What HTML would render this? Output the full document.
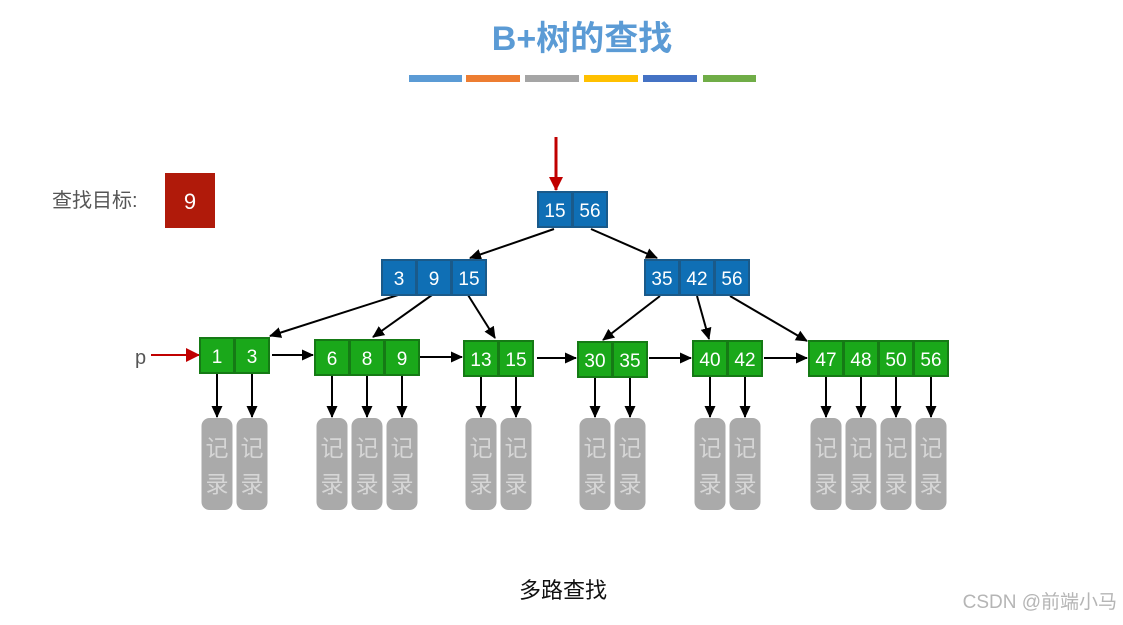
<!DOCTYPE html>
<html><head><meta charset="utf-8"><style>
body{margin:0;background:#fff}
svg text{font-family:"Liberation Sans","Noto Sans CJK SC",sans-serif}
</style></head><body>
<svg width="1123" height="620" xmlns="http://www.w3.org/2000/svg">
<defs>
<marker id="a" markerWidth="12" markerHeight="12" refX="11" refY="6" orient="auto" markerUnits="userSpaceOnUse"><path d="M0,0.5L12,6L0,11.5z" fill="#000"/></marker>
<marker id="r" markerWidth="14" markerHeight="14" refX="13" refY="7" orient="auto" markerUnits="userSpaceOnUse"><path d="M0,0L14,7L0,14z" fill="#c00000"/></marker>
</defs>
<text x="582" y="50" text-anchor="middle" font-size="34" font-weight="bold" fill="#5b9bd5">B+树的查找</text>
<rect x="409" y="75" width="53" height="7" fill="#5b9bd5"/>
<rect x="466" y="75" width="54" height="7" fill="#ed7d31"/>
<rect x="525" y="75" width="54" height="7" fill="#a5a5a5"/>
<rect x="584" y="75" width="54" height="7" fill="#ffc000"/>
<rect x="643" y="75" width="54" height="7" fill="#4472c4"/>
<rect x="703" y="75" width="53" height="7" fill="#70ad47"/>
<text x="52" y="207" font-size="20" fill="#555">查找目标:</text>
<rect x="165" y="173" width="50" height="55" fill="#b01a0a"/>
<text x="190" y="209" text-anchor="middle" font-size="22" fill="#fff">9</text>
<line x1="556" y1="137" x2="556" y2="190" stroke="#c00000" stroke-width="3" marker-end="url(#r)"/>
<text x="135" y="364" font-size="20" fill="#555">p</text>
<line x1="151" y1="355" x2="199" y2="355" stroke="#c00000" stroke-width="2" marker-end="url(#r)"/>
<g stroke="#000" stroke-width="2" fill="none" marker-end="url(#a)">
<line x1="554" y1="229" x2="470" y2="258"/>
<line x1="591" y1="229" x2="657" y2="258"/>
<line x1="398" y1="295" x2="270" y2="336"/>
<line x1="432" y1="295" x2="373" y2="337"/>
<line x1="468" y1="295" x2="495" y2="338"/>
<line x1="660" y1="296" x2="603" y2="340"/>
<line x1="697" y1="296" x2="709" y2="339"/>
<line x1="730" y1="296" x2="807" y2="341"/>
<line x1="272" y1="355" x2="313" y2="355"/>
<line x1="420" y1="357" x2="462" y2="357"/>
<line x1="537" y1="358" x2="576" y2="358"/>
<line x1="649" y1="358" x2="691" y2="358"/>
<line x1="764" y1="358" x2="807" y2="358"/>
</g>
<g id="nodes" font-size="19" fill="#fff" text-anchor="middle"></g>
<script>
var s='http://www.w3.org/2000/svg',g=document.getElementById('nodes'),svg=g.ownerSVGElement;
function node(x,y,vals,fill,stroke,rec){vals.forEach(function(v,i){var r=document.createElementNS(s,'rect');
r.setAttribute('x',x+i*35);r.setAttribute('y',y);r.setAttribute('width',34);r.setAttribute('height',35);
r.setAttribute('fill',fill);r.setAttribute('stroke',stroke);r.setAttribute('stroke-width',2);g.appendChild(r);
var t=document.createElementNS(s,'text');t.setAttribute('x',x+i*35+17);t.setAttribute('y',y+25);t.textContent=v;g.appendChild(t);
if(rec){var cx=x+i*35+17;var l=document.createElementNS(s,'line');l.setAttribute('x1',cx);l.setAttribute('y1',y+36);l.setAttribute('x2',cx);l.setAttribute('y2',417);
l.setAttribute('stroke','#000');l.setAttribute('stroke-width',2);l.setAttribute('marker-end','url(#a)');svg.appendChild(l);
var b=document.createElementNS(s,'rect');b.setAttribute('x',cx-15.5);b.setAttribute('y',418);b.setAttribute('width',31);b.setAttribute('height',92);b.setAttribute('rx',8);b.setAttribute('fill','#aaa');svg.appendChild(b);
['记','录'].forEach(function(c,k){var tt=document.createElementNS(s,'text');tt.setAttribute('x',cx);tt.setAttribute('y',456+k*36);tt.setAttribute('text-anchor','middle');tt.setAttribute('font-size','23');tt.setAttribute('fill','#d6d6d6');tt.textContent=c;svg.appendChild(tt);});}
});}
var B='#0f6fb5',BS='#1a5a8a',G='#1aa81a',GS='#157a15';
node(538,192,['15','56'],B,BS);
node(382,260,['3','9','15'],B,BS);
node(645,260,['35','42','56'],B,BS);
node(200,338,['1','3'],G,GS,1);
node(315,340,['6','8','9'],G,GS,1);
node(464,341,['13','15'],G,GS,1);
node(578,342,['30','35'],G,GS,1);
node(693,341,['40','42'],G,GS,1);
node(809,341,['47','48','50','56'],G,GS,1);
</script>
<text x="563" y="598" text-anchor="middle" font-size="22" fill="#111">多路查找</text>
<text x="1117" y="608" text-anchor="end" font-size="19" fill="#b5b5b5">CSDN @前端小马</text>
</svg>
</body></html>
